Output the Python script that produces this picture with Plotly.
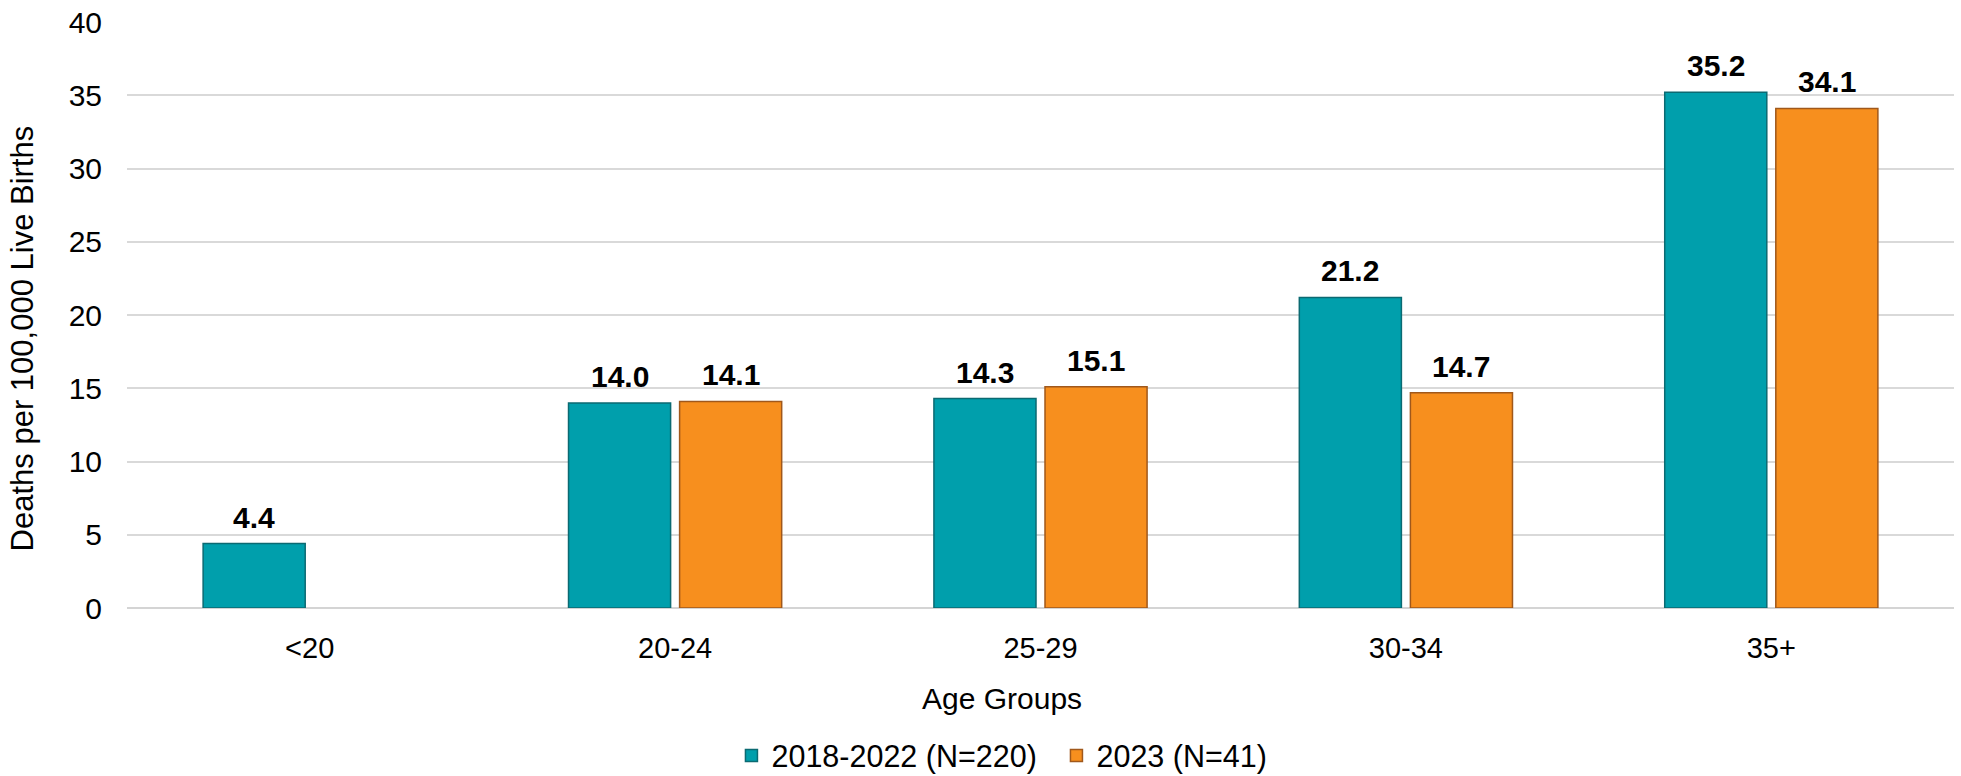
import plotly.graph_objects as go

# Maternal mortality by age group
age_groups = ["<20", "20-24", "25-29", "30-34", "35+"]
rate_2018_2022 = [4.4, 14.0, 14.3, 21.2, 35.2]
rate_2023 = [None, 14.1, 15.1, 14.7, 34.1]
series_names = ["2018-2022 (N=220)", "2023 (N=41)"]
y_ticks = [0, 5, 10, 15, 20, 25, 30, 35, 40]

FONT = "Arial, 'Liberation Sans', sans-serif"
TEXT_SIZE = 30
TEAL, TEAL_EDGE = "#009FAC", "#0B6A72"
ORANGE, ORANGE_EDGE = "#F78F1E", "#A0581B"

fig = go.Figure()
fig.add_trace(go.Bar(
    x=age_groups, y=rate_2018_2022, name=series_names[0],
    marker=dict(color=TEAL, line=dict(color=TEAL_EDGE, width=1.5)),
))
fig.add_trace(go.Bar(
    x=age_groups, y=rate_2023, name=series_names[1],
    marker=dict(color=ORANGE, line=dict(color=ORANGE_EDGE, width=1.5)),
))

# Bold value labels above each bar
annotations = []
for values, shift in ((rate_2018_2022, -55.5), (rate_2023, 55.5)):
    for cat, v in zip(age_groups, values):
        if v is None:
            continue
        annotations.append(dict(
            x=cat, y=v, xref="x", yref="y", text=f"<b>{v:.1f}</b>",
            showarrow=False, xshift=shift, yshift=8, yanchor="bottom",
            font=dict(family=FONT, size=TEXT_SIZE, color="#000000"),
        ))

# Axis titles
annotations.append(dict(
    x=0.479, y=-0.1536, xref="paper", yref="paper", text="Age Groups",
    showarrow=False, xanchor="center", yanchor="middle",
    font=dict(family=FONT, size=TEXT_SIZE, color="#000000"),
))
annotations.append(dict(
    x=-0.0575, y=0.46, xref="paper", yref="paper",
    text="Deaths per 100,000 Live Births", textangle=-90,
    showarrow=False, xanchor="center", yanchor="middle",
    font=dict(family=FONT, size=31, color="#000000"),
))

fig.update_layout(
    width=1961, height=776,
    margin=dict(l=127, r=7, t=22, b=168, autoexpand=False),
    paper_bgcolor="white", plot_bgcolor="white",
    barmode="group", bargap=0.392, bargroupgap=0.081,
    font=dict(family=FONT, size=TEXT_SIZE, color="#000000"),
    showlegend=True,
    legend=dict(
        orientation="h", xref="container", yref="paper",
        x=0.373, y=-0.252, xanchor="left", yanchor="middle",
        entrywidth=280, entrywidthmode="pixels",
        font=dict(family=FONT, size=30.5, color="#000000"),
        traceorder="normal", bgcolor="rgba(0,0,0,0)",
    ),
    annotations=annotations,
)
fig.update_xaxes(
    showgrid=False, showline=False, ticks="",
    ticklabelstandoff=20,
    tickfont=dict(family=FONT, size=29, color="#000000"),
)
fig.update_yaxes(
    range=[0, 40], tickvals=y_ticks, showgrid=True,
    gridcolor="#D9D9D9", gridwidth=1.5,
    zeroline=True, zerolinecolor="#D4D4D4", zerolinewidth=2,
    showline=False, ticks="", ticklabelstandoff=24,
    tickfont=dict(family=FONT, size=TEXT_SIZE, color="#000000"),
)

fig.write_html("out.html")
